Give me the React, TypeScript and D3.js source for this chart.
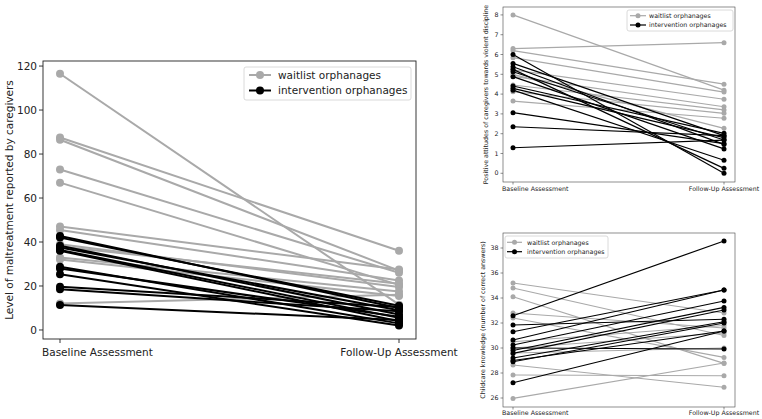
import React from 'react';
import * as d3 from 'd3';

const timepoints = ['Baseline Assessment', 'Follow-Up Assessment'];
const seriesNames = ['waitlist orphanages', 'intervention orphanages'];

// Panel A: maltreatment reported by caregivers
const maltreatYTicks = [0, 20, 40, 60, 80, 100, 120];
const maltreatWaitBase = [116.5, 87.5, 86.5, 73, 67, 47, 45.5, 39, 38, 33, 32, 12];
const maltreatWaitFollow = [11.5, 36, 27, 26, 20.5, 27.5, 22.5, 19.5, 21, 17.5, 15.5, 16];
const maltreatIntBase = [42.7, 42, 38.3, 37.5, 36.4, 36, 28.8, 28, 25.3, 19.7, 18.5, 11.4];
const maltreatIntFollow = [10, 11, 7, 9, 5.5, 4, 3, 6, 2, 10.5, 8.5, 4.5];

// Panel B: positive attitudes towards violent discipline
const attitudeYTicks = [0, 1, 2, 3, 4, 5, 6, 7, 8];
const attitudeWaitBase = [8.0, 6.3, 6.2, 5.84, 5.22, 4.9, 4.46, 4.12, 3.65, 5.0];
const attitudeWaitFollow = [4.2, 6.6, 4.5, 4.1, 3.74, 3.36, 3.2, 3.03, 2.78, 2.27];
const attitudeIntBase = [6.0, 5.55, 5.38, 5.25, 5.13, 4.88, 4.41, 4.29, 4.2, 3.06, 2.35, 1.29];
const attitudeIntFollow = [0.0, 1.9, 1.46, 0.25, 1.68, 1.23, 2.02, 1.8, 0.66, 1.5, 1.9, 1.68];

// Panel C: childcare knowledge
const knowledgeYTicks = [26, 28, 30, 32, 34, 36, 38];
const knowledgeWaitBase = [35.2, 34.8, 34.1, 32.8, 32.4, 30.5, 30.0, 29.6, 28.64, 27.84, 25.97];
const knowledgeWaitFollow = [32.8, 31.0, 28.77, 31.6, 29.25, 31.8, 31.2, 30.0, 26.86, 27.78, 28.8];
const knowledgeIntBase = [32.58, 31.84, 31.3, 30.64, 30.24, 30.0, 29.8, 29.57, 29.2, 29.0, 28.9, 27.22];
const knowledgeIntFollow = [38.56, 32.3, 34.64, 34.64, 33.76, 29.92, 33.25, 33.04, 32.1, 31.36, 32.0, 31.36];

const GRAY = '#a9a9a9';
const BLACK = '#000000';
const FONT = '"DejaVu Sans", Verdana, sans-serif';

type PanelProps = {
  left: number; right: number; top: number; bottom: number;
  xLeft: number; xRight: number;
  yDomain: [number, number];
  yTicks: number[];
  yLabel: string; yLabelX: number;
  waitBase: number[]; waitFollow: number[];
  intBase: number[]; intFollow: number[];
  fs: number; lw: number; r: number; tickLen: number; frameColor: string; frameW: number;
  legend: { x0: number; y0: number; x1: number; y1: number; hx0: number; hx1: number; tx: number; rows: number[]; fs: number };
  xLabelY: number;
};

function Panel(p: PanelProps) {
  const x = d3.scaleLinear().domain([0, 1]).range([p.xLeft, p.xRight]);
  const y = d3.scaleLinear().domain(p.yDomain).range([p.bottom, p.top]);
  const line = d3.line<[number, number]>().x(d => x(d[0])).y(d => y(d[1]));
  const groups = [
    { base: p.waitBase, follow: p.waitFollow, color: GRAY },
    { base: p.intBase, follow: p.intFollow, color: BLACK },
  ];
  const cy = (p.top + p.bottom) / 2;
  return (
    <g>
      {groups.map((g, gi) => (
        <g key={gi}>
          {g.base.map((b, i) => {
            const pts: [number, number][] = [[0, b], [1, g.follow[i]]];
            return (
              <g key={i}>
                <path d={line(pts) || ''} stroke={g.color} strokeWidth={p.lw} fill="none" />
                {pts.map((pt, k) => (
                  <circle key={k} cx={x(pt[0])} cy={y(pt[1])} r={p.r} fill={g.color} />
                ))}
              </g>
            );
          })}
        </g>
      ))}
      <rect x={p.left} y={p.top} width={p.right - p.left} height={p.bottom - p.top} fill="none" stroke={p.frameColor} strokeWidth={p.frameW} />
      {p.yTicks.map(t => (
        <g key={t}>
          <line x1={p.left - p.tickLen} x2={p.left} y1={y(t)} y2={y(t)} stroke={p.frameColor} strokeWidth={p.frameW} />
          <text x={p.left - p.tickLen - 2} y={y(t)} dy="0.35em" textAnchor="end" fontSize={p.fs} fontFamily={FONT} fill="#222">{t}</text>
        </g>
      ))}
      {timepoints.map((tp, i) => (
        <g key={tp}>
          <line x1={x(i)} x2={x(i)} y1={p.bottom} y2={p.bottom + p.tickLen} stroke={p.frameColor} strokeWidth={p.frameW} />
          <text x={i === 0 ? p.left - 1 : x(i)} y={p.xLabelY} dy="0.35em" textAnchor={i === 0 ? 'start' : 'middle'} fontSize={p.fs} fontFamily={FONT} fill="#222">{tp}</text>
        </g>
      ))}
      <text transform={`translate(${p.yLabelX},${cy}) rotate(-90)`} textAnchor="middle" dy="0.35em" fontSize={p.fs} fontFamily={FONT} fill="#222">{p.yLabel}</text>
      <rect x={p.legend.x0} y={p.legend.y0} width={p.legend.x1 - p.legend.x0} height={p.legend.y1 - p.legend.y0} rx={2} fill="white" fillOpacity={0.8} stroke="#d0d0d0" strokeWidth={0.8} />
      {seriesNames.map((s, i) => {
        const c = i === 0 ? GRAY : BLACK;
        const ry = p.legend.rows[i];
        return (
          <g key={s}>
            <line x1={p.legend.hx0} x2={p.legend.hx1} y1={ry} y2={ry} stroke={c} strokeWidth={p.lw} />
            <circle cx={(p.legend.hx0 + p.legend.hx1) / 2} cy={ry} r={p.r} fill={c} />
            <text x={p.legend.tx} y={ry} dy="0.35em" fontSize={p.legend.fs} fontFamily={FONT} fill="#222">{s}</text>
          </g>
        );
      })}
    </g>
  );
}

export default function App() {
  return (
    <svg width={762} height={419} style={{ position: 'absolute', left: 0, top: 0, background: 'white' }}>
      <Panel
        left={43} right={416} top={61} bottom={339}
        xLeft={60} xRight={399}
        yDomain={[-4.1, 122.3]} yTicks={maltreatYTicks}
        yLabel="Level of maltreatment reported by caregivers" yLabelX={9}
        waitBase={maltreatWaitBase} waitFollow={maltreatWaitFollow}
        intBase={maltreatIntBase} intFollow={maltreatIntFollow}
        fs={10.5} lw={2} r={4} tickLen={4} frameColor="#222" frameW={0.9}
        legend={{ x0: 244, y0: 67, x1: 411, y1: 100, hx0: 249, hx1: 271, tx: 278, rows: [75, 90.5], fs: 10.5 }}
        xLabelY={352}
      />
      <Panel
        left={503} right={735} top={7} bottom={182}
        xLeft={513} xRight={724}
        yDomain={[-0.44, 8.4]} yTicks={attitudeYTicks}
        yLabel="Positive attitudes of caregivers towards violent discipline" yLabelX={486}
        waitBase={attitudeWaitBase} waitFollow={attitudeWaitFollow}
        intBase={attitudeIntBase} intFollow={attitudeIntFollow}
        fs={6.3} lw={1.2} r={2.5} tickLen={2.5} frameColor="#444" frameW={0.6}
        legend={{ x0: 627, y0: 10, x1: 733, y1: 31, hx0: 630, hx1: 646, tx: 649, rows: [15.7, 25], fs: 6.3 }}
        xLabelY={189}
      />
      <Panel
        left={503} right={735} top={233} bottom={407}
        xLeft={513} xRight={724}
        yDomain={[25.28, 39.2]} yTicks={knowledgeYTicks}
        yLabel="Childcare knowledge (number of correct answers)" yLabelX={483}
        waitBase={knowledgeWaitBase} waitFollow={knowledgeWaitFollow}
        intBase={knowledgeIntBase} intFollow={knowledgeIntFollow}
        fs={6.3} lw={1.2} r={2.5} tickLen={2.5} frameColor="#444" frameW={0.6}
        legend={{ x0: 505, y0: 236, x1: 608, y1: 258, hx0: 507, hx1: 522, tx: 527, rows: [242.3, 251.7], fs: 6.3 }}
        xLabelY={413}
      />
    </svg>
  );
}
